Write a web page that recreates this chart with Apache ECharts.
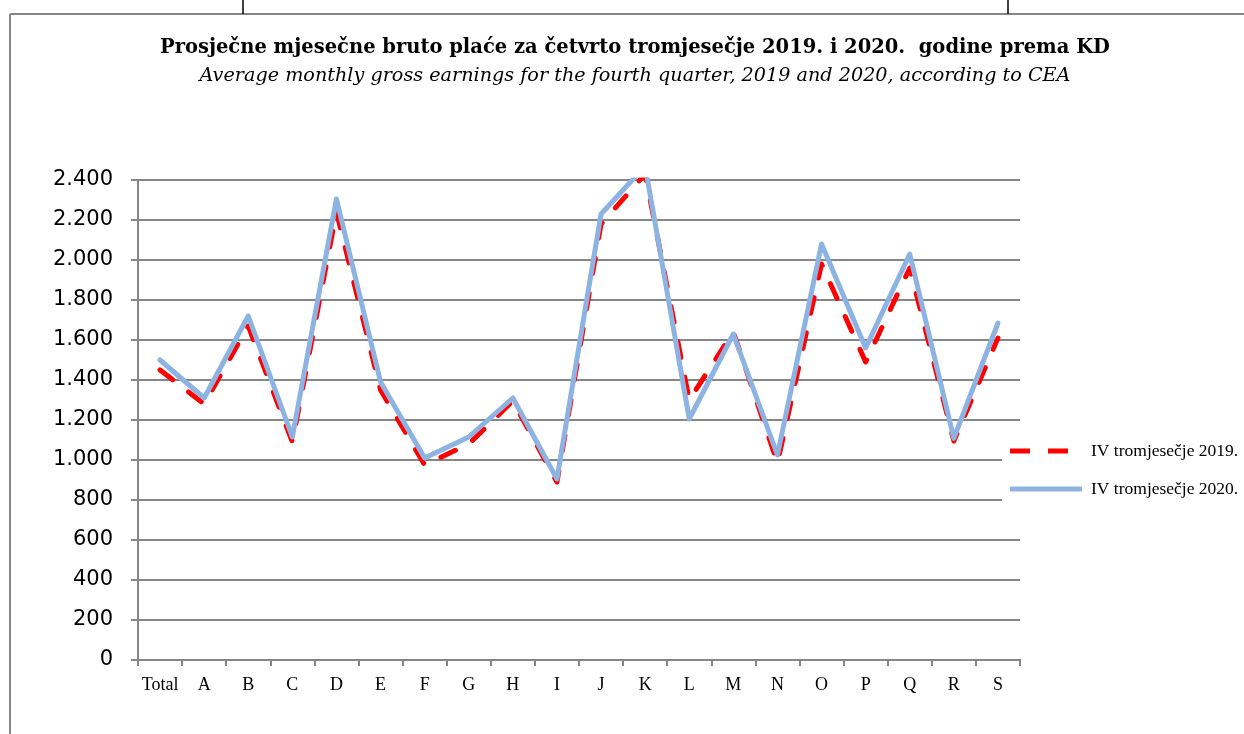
<!DOCTYPE html>
<html>
<head>
<meta charset="utf-8">
<script src="https://cdn.jsdelivr.net/npm/echarts@6/dist/echarts.min.js"></script>
<style>
html,body{margin:0;padding:0;background:#fff;}
#chart{width:1244px;height:734px;}
</style>
</head>
<body>
<div id="chart"></div>
<script>
const categories = ['Total','A','B','C','D','E','F','G','H','I','J','K','L','M','N','O','P','Q','R','S'];
const values2019 = [1450,1280,1670,1090,2240,1350,975,1080,1295,890,2180,2430,1300,1640,985,1980,1490,1960,1095,1610];
const values2020 = [1500,1310,1720,1115,2305,1390,1010,1115,1310,905,2230,2470,1205,1630,1025,2080,1560,2030,1108,1685];
const seriesNames = ['IV tromjesečje 2019.','IV tromjesečje 2020.'];
const titleText = 'Prosječne mjesečne bruto plaće za četvrto tromjesečje 2019. i 2020.  godine prema KD';
const subtitleText = 'Average monthly gross earnings for the fourth quarter, 2019 and 2020, according to CEA';

const red = '#FF0000';
const blue = '#8DB3E2';
const gray = '#868686';

const chart = echarts.init(document.getElementById('chart'));
chart.setOption({
  backgroundColor: '#fff',
  animation: false,
  title: {
    text: titleText,
    subtext: subtitleText,
    left: 630, textAlign: 'center', top: 33,
    itemGap: 9,
    textStyle: {fontFamily: 'DejaVu Serif', fontWeight: 'bold', fontSize: 19.5, color: '#000'},
    subtextStyle: {fontFamily: 'DejaVu Serif', fontStyle: 'italic', fontSize: 19.2, color: '#000'}
  },
  legend: {
    orient: 'vertical',
    left: 1002, top: 438,
    backgroundColor: '#fff',
    padding: [4, 4, 4, 8],
    itemWidth: 72, itemHeight: 5, itemGap: 20,
    textStyle: {fontFamily: 'Liberation Serif', fontSize: 17.5, color: '#000', padding: [0,0,0,4]},
    data: [
      {name: seriesNames[0], icon: 'path://M0,0H20V5H0Z M38,0H58V5H38Z M72,0L72,5', itemStyle: {color: red}},
      {name: seriesNames[1], icon: 'path://M0,0H72V5H0Z', itemStyle: {color: blue}}
    ]
  },
  grid: {left: 138, right: 224, top: 180, bottom: 74, containLabel: false},
  xAxis: {
    type: 'category',
    data: categories,
    boundaryGap: true,
    axisLine: {lineStyle: {color: gray, width: 2}},
    axisTick: {show: true, interval: 0, length: 6, lineStyle: {color: gray, width: 2}},
    axisLabel: {interval: 0, fontFamily: 'Liberation Serif', fontSize: 18, color: '#000', margin: 16}
  },
  yAxis: {
    type: 'value',
    min: 0, max: 2400, interval: 200,
    axisLine: {show: true, lineStyle: {color: gray, width: 2}},
    axisTick: {show: true, length: 7, lineStyle: {color: gray, width: 2}},
    splitLine: {lineStyle: {color: gray, width: 2}},
    axisLabel: {
      fontFamily: 'DejaVu Sans', fontSize: 21, color: '#000', margin: 25,
      formatter: v => String(v).replace(/\B(?=(\d{3})+(?!\d))/g, '.')
    }
  },
  series: [
    {
      name: seriesNames[0], type: 'line', data: values2019,
      symbol: 'none', clip: true,
      itemStyle: {color: red},
      lineStyle: {color: red, width: 5, type: [16, 20], cap: 'round', join: 'round'}
    },
    {
      name: seriesNames[1], type: 'line', data: values2020,
      symbol: 'none', clip: true,
      itemStyle: {color: blue},
      lineStyle: {color: blue, width: 5, cap: 'round', join: 'round'}
    }
  ],
  graphic: [
    {type: 'line', shape: {x1: 10, y1: 14, x2: 1244, y2: 14}, style: {stroke: gray, lineWidth: 2}},
    {type: 'line', shape: {x1: 10, y1: 14, x2: 10, y2: 734}, style: {stroke: gray, lineWidth: 2}},
    {type: 'line', shape: {x1: 243, y1: 0, x2: 243, y2: 14}, style: {stroke: '#000', lineWidth: 1.5}},
    {type: 'line', shape: {x1: 1008, y1: 0, x2: 1008, y2: 14}, style: {stroke: '#000', lineWidth: 1.5}}
  ]
});
</script>
</body>
</html>
